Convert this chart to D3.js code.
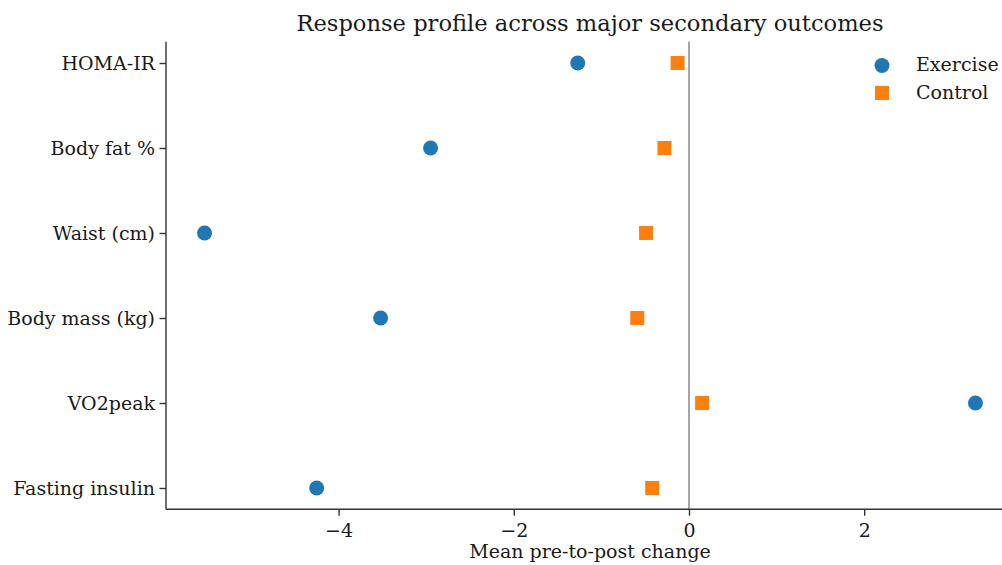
<!DOCTYPE html>
<html><head><meta charset="utf-8">
<script src="https://cdn.jsdelivr.net/npm/d3@7"></script>
<style>body{margin:0;background:#fff}svg{display:block}text{font-family:"DejaVu Serif",serif;fill:#1a1a1a}</style>
</head><body>
<svg id="c" width="1002" height="565"></svg>
<script>
const categories = ["Fasting insulin","VO2peak","Body mass (kg)","Waist (cm)","Body fat %","HOMA-IR"];
const exerciseValues = [-4.25, 3.27, -3.52, -5.53, -2.95, -1.27];
const controlValues = [-0.42, 0.15, -0.59, -0.49, -0.28, -0.13];
const xTicks = [-4, -2, 0, 2];
const seriesNames = ["Exercise","Control"];
const titleText = "Response profile across major secondary outcomes";
const xLabelText = "Mean pre-to-post change";

(function () {
const svg = d3.select("#c");
const pL = 166, pR = 1014, pT = 41.75, pB = 509.25;
const fs = 19, fsTitle = 22.6;
const all = exerciseValues.concat(controlValues);
const mn = d3.min(all), mx = d3.max(all), pad = (mx - mn) * 0.05;
const x = d3.scaleLinear().domain([mn - pad, mx + pad]).range([pL, pR]);
const y = d3.scaleLinear().domain([-0.25, categories.length - 0.75]).range([pB, pT]);

// zero line
svg.append("line").attr("x1", x(0)).attr("x2", x(0)).attr("y1", pT).attr("y2", pB)
  .attr("stroke", "#808080").attr("stroke-width", 1.4);

// axes
const xa = svg.append("g").attr("transform", `translate(0,${pB})`)
  .call(d3.axisBottom(x).tickValues(xTicks).tickSize(6.5).tickPadding(7.5).tickFormat(d => d < 0 ? "\u2212" + Math.abs(d) : d));
xa.select(".domain").attr("d", `M${pL},0H${pR}`).attr("stroke", "#333").attr("stroke-width", 1.4);
xa.selectAll(".tick line").attr("stroke", "#333").attr("stroke-width", 1.4);
xa.selectAll("text").attr("font-size", fs).attr("fill", "#1a1a1a").attr("font-family", "DejaVu Serif");

const ya = svg.append("g").attr("transform", `translate(${pL},0)`)
  .call(d3.axisLeft(y).tickValues(d3.range(categories.length)).tickSize(6.5).tickPadding(4.5).tickFormat(i => categories[i]));
ya.select(".domain").attr("d", `M0,${pT}V${pB}`).attr("stroke", "#333").attr("stroke-width", 1.4);
ya.selectAll(".tick line").attr("stroke", "#333").attr("stroke-width", 1.4);
ya.selectAll("text").attr("font-size", fs).attr("fill", "#1a1a1a").attr("font-family", "DejaVu Serif");

// points
svg.append("g").selectAll("circle").data(exerciseValues).join("circle")
  .attr("cx", d => x(d)).attr("cy", (d, i) => y(i)).attr("r", 7.5).attr("fill", "#1f77b4");
const s = 14;
svg.append("g").selectAll("rect").data(controlValues).join("rect")
  .attr("x", d => x(d) - s / 2).attr("y", (d, i) => y(i) - s / 2).attr("width", s).attr("height", s).attr("fill", "#ff7f0e");

// title & label
svg.append("text").attr("x", (pL + pR) / 2).attr("y", 31).attr("text-anchor", "middle")
  .attr("font-size", fsTitle).text(titleText);
svg.append("text").attr("x", (pL + pR) / 2).attr("y", 558).attr("text-anchor", "middle")
  .attr("font-size", fs).text(xLabelText);

// legend
const lg = svg.append("g");
lg.append("circle").attr("cx", 882).attr("cy", 65.5).attr("r", 7.5).attr("fill", "#1f77b4");
lg.append("rect").attr("x", 882 - s / 2).attr("y", 93 - s / 2).attr("width", s).attr("height", s).attr("fill", "#ff7f0e");
lg.append("text").attr("x", 916).attr("y", 71).attr("font-size", fs).text(seriesNames[0]);
lg.append("text").attr("x", 916).attr("y", 98.5).attr("font-size", fs).text(seriesNames[1]);
})();
</script>
</body></html>
